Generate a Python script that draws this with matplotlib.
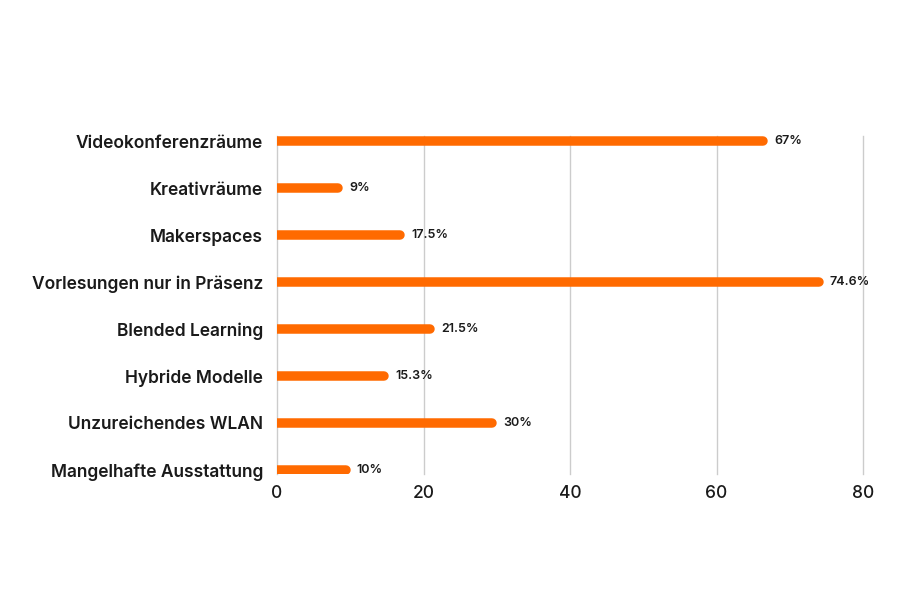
import matplotlib.pyplot as plt

categories = ['Videokonferenzräume', 'Kreativräume', 'Makerspaces',
              'Vorlesungen nur in Präsenz', 'Blended Learning',
              'Hybride Modelle', 'Unzureichendes WLAN',
              'Mangelhafte Ausstattung']
values = [67, 9, 17.5, 74.6, 21.5, 15.3, 30, 10]
value_labels = ['67%', '9%', '17.5%', '74.6%', '21.5%', '15.3%', '30%', '10%']
xticks = [0, 20, 40, 60, 80]

plt.rcParams['font.family'] = ['Inter', 'DejaVu Sans']

fig = plt.figure(figsize=(9, 6), dpi=100)
ax = fig.add_axes([0.3078, 0.21, 0.6511, 0.5633])
ax.set_xlim(0, 80)
ax.set_ylim(len(categories) - 1 + 0.09, -0.11)

orange = '#ff6a00'
bar_px = 9.5
lw = bar_px * 72 / fig.dpi
# radius of the round cap in data units
px_per_unit = ax.get_position().width * fig.get_figwidth() * fig.dpi / 80
cap = (bar_px / 2) / px_per_unit

for i, (v, lab) in enumerate(zip(values, value_labels)):
    ax.hlines(i, 0, v - cap, color=orange, linewidth=lw, capstyle='round', zorder=3)
    ax.annotate(lab, (v, i), xytext=(4.5, 0), textcoords='offset points',
                va='center', ha='left', fontsize=9, fontweight='semibold', color='#1a1a1a')

ax.set_yticks(range(len(categories)))
ax.set_yticklabels(categories, fontsize=12.5, fontweight='semibold', color='#1a1a1a')
ax.set_xticks(xticks)
ax.set_xticklabels([str(t) for t in xticks], fontsize=12.5, fontweight='medium', color='#1a1a1a')
ax.tick_params(axis='both', length=0)
ax.tick_params(axis='y', pad=10)
ax.tick_params(axis='x', pad=8)
ax.grid(axis='x', color='#cccccc', linewidth=1, zorder=0)
for gl in ax.get_xgridlines():
    gl.set_clip_on(False)
for s in ax.spines.values():
    s.set_visible(False)

fig.savefig('out.png', dpi=100)
